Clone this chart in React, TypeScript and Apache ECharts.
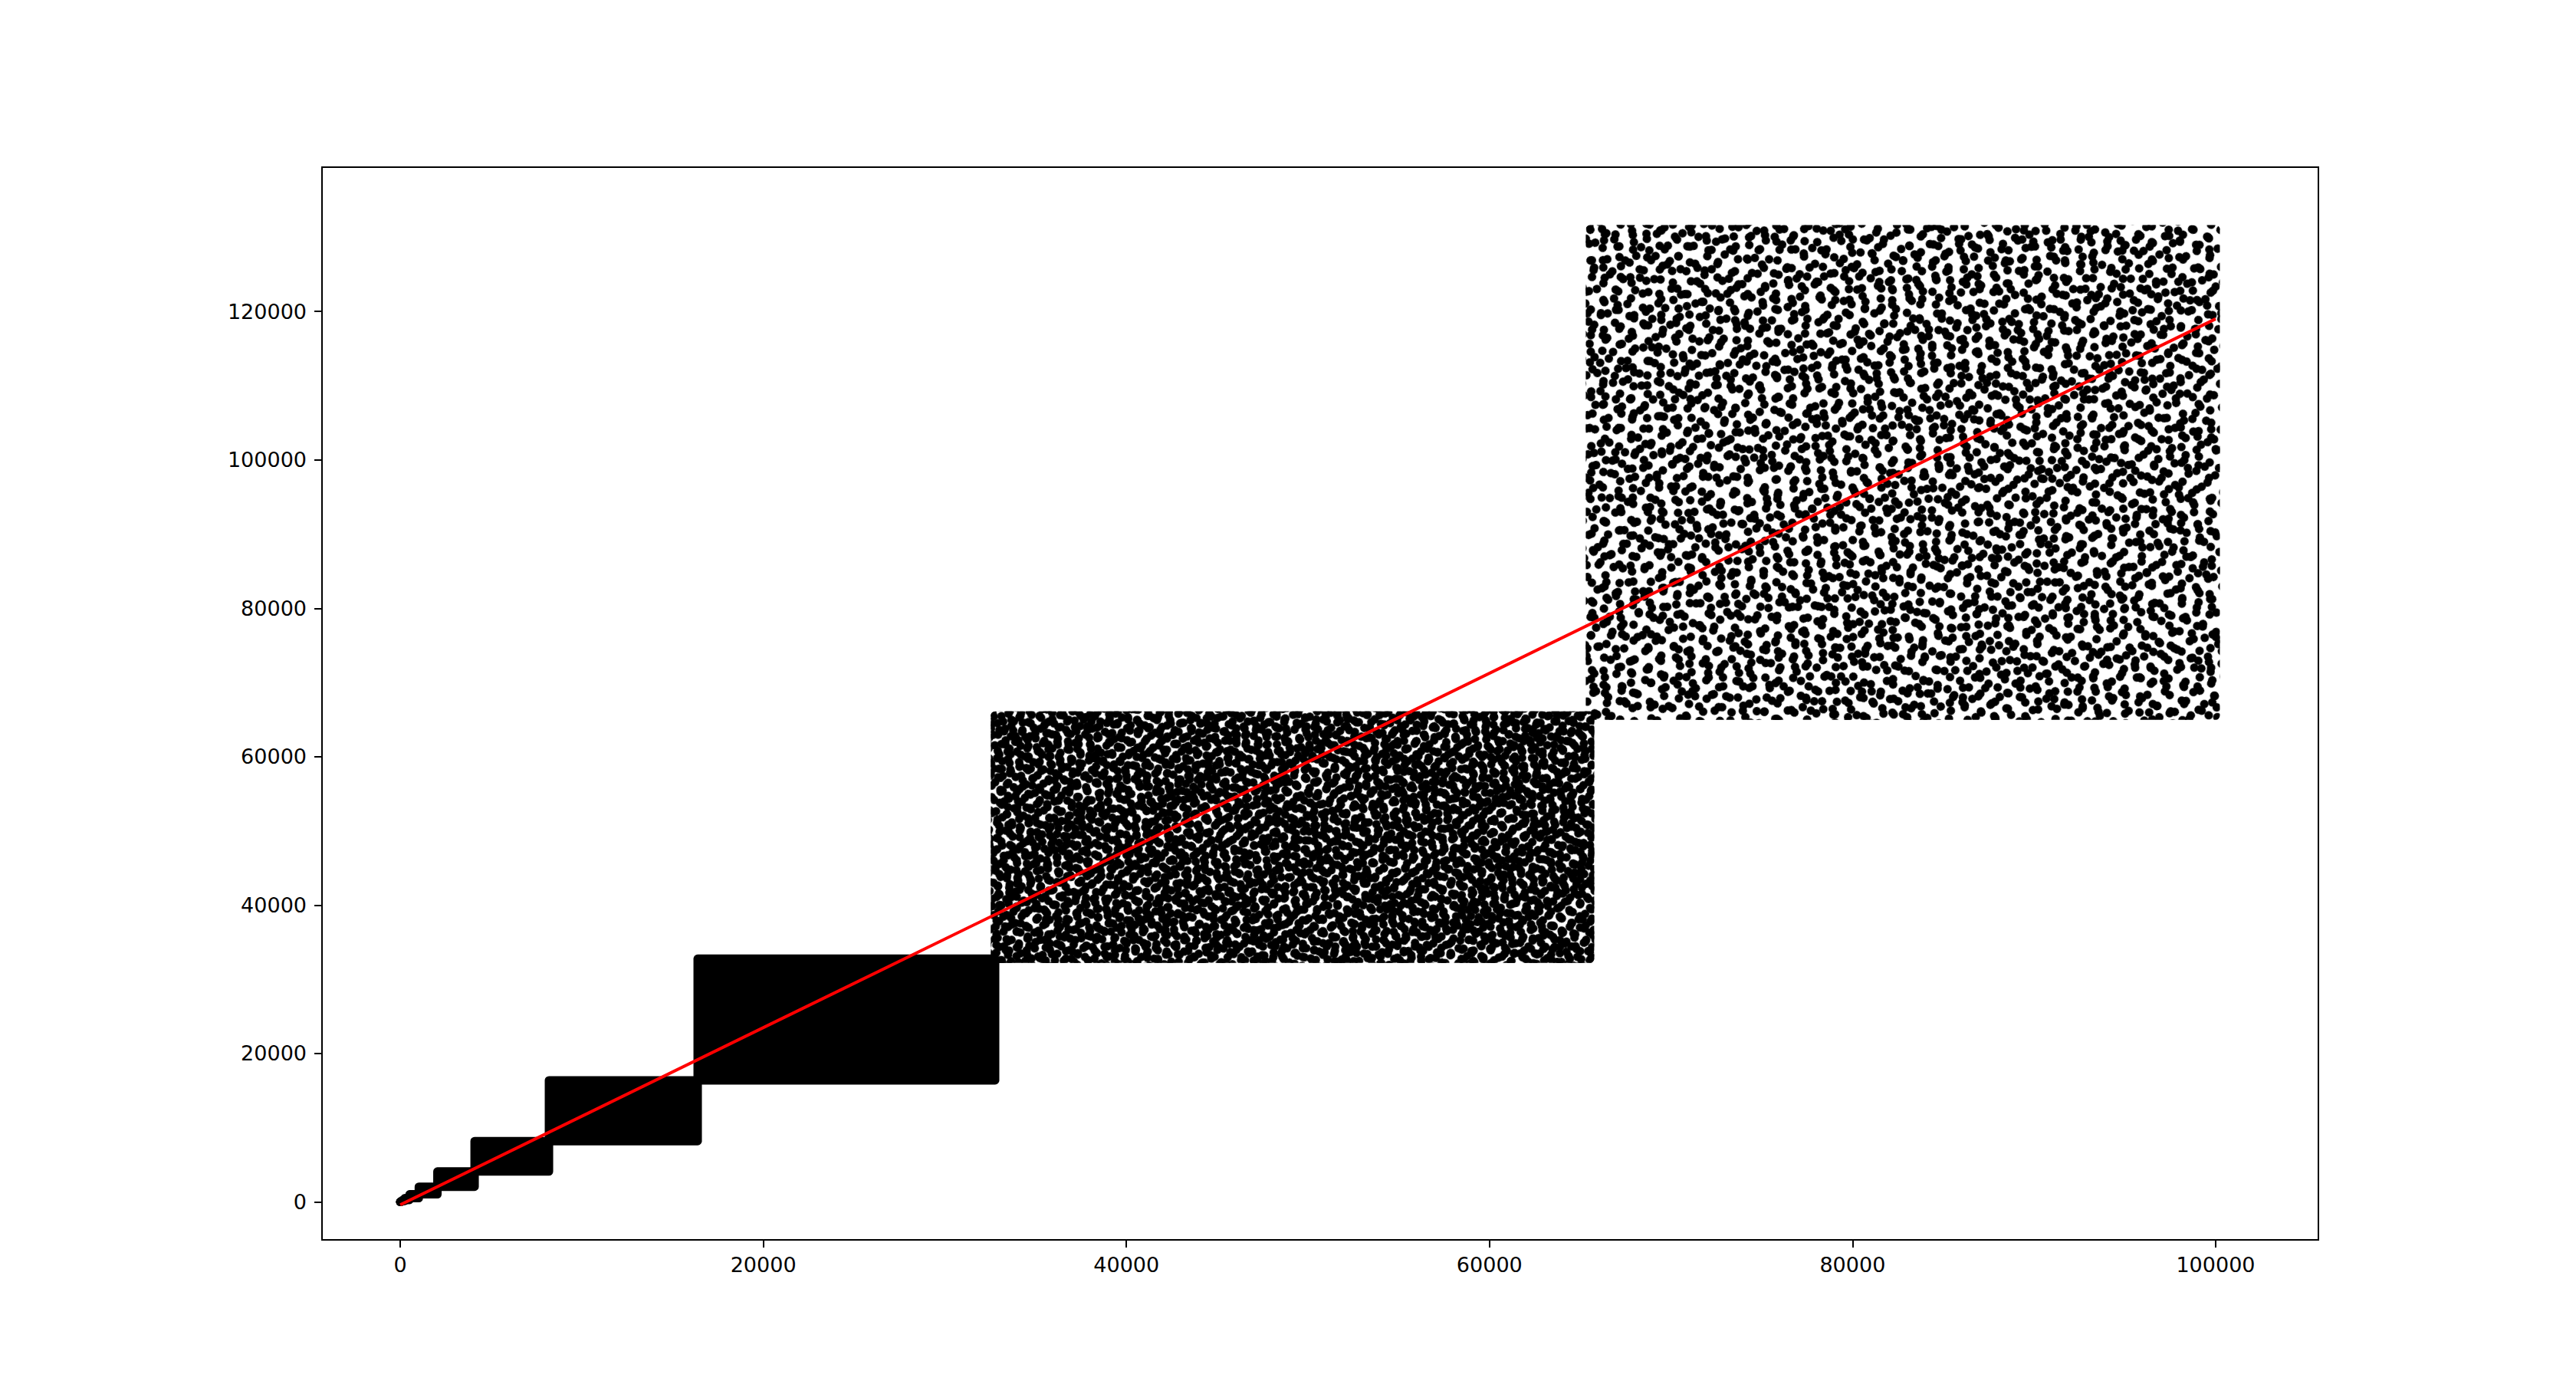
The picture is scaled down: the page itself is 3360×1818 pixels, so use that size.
import React, { useEffect, useRef } from 'react';
import * as echarts from 'echarts';

// Blocks of points: for x in [xStart, xEnd), y lies in [yStart, yEnd]
const blockXStart = [0, 1, 2, 4, 8, 16, 32, 64, 128, 256, 512, 1024, 2048, 4096, 8192, 16384, 32768, 65536];
const blockXEnd = [1, 2, 4, 8, 16, 32, 64, 128, 256, 512, 1024, 2048, 4096, 8192, 16384, 32768, 65536, 100000];
const blockYStart = [0, 1, 2, 4, 8, 16, 32, 64, 128, 256, 512, 1024, 2048, 4096, 8192, 16384, 32768, 65536];
const blockYEnd = [1, 2, 4, 8, 16, 32, 64, 128, 256, 512, 1024, 2048, 4096, 8192, 16384, 32768, 65536, 131072];

// Red fitted line end points
const fitLineX = [0, 100000];
const fitLineY = [-400, 119000];

const xTicks = [0, 20000, 40000, 60000, 80000, 100000];
const yTicks = [0, 20000, 40000, 60000, 80000, 100000, 120000];

const DOT_R = 5.5;

const mkDecal = (rotation: number, dashArrayY: number[], dashArrayX: number[][]) => ({
  symbol: 'circle',
  symbolSize: 1,
  color: '#000',
  backgroundColor: null,
  rotation,
  dashArrayY,
  dashArrayX,
  maxTileWidth: 512,
  maxTileHeight: 512,
});

// Dot textures (three overlaid layers) for the sparse top block
const sparseLayers = [
  mkDecal(0.5, [11, 7, 11, 10, 11, 6, 11, 11], [
    [11, 8, 11, 15, 11, 5, 11, 14],
    [0, 12, 11, 6, 11, 11, 11, 8, 11, 5],
    [11, 3, 11, 17, 11, 10, 11, 12],
    [0, 6, 11, 14, 11, 4, 11, 10, 11, 8],
  ]),
  mkDecal(-0.7, [11, 10, 11, 6, 11, 13, 11, 8], [
    [11, 16, 11, 2, 11, 11, 11, 16],
    [0, 7, 11, 10, 11, 14, 11, 5, 11, 9],
    [11, 6, 11, 19, 11, 8, 11, 12],
    [0, 2, 11, 12, 11, 4, 11, 17, 11, 10],
  ]),
  mkDecal(1.4, [11, 11, 11, 5, 11, 9, 11, 7], [
    [11, 13, 11, 7, 11, 18, 11, 10],
    [0, 10, 11, 5, 11, 15, 11, 6, 11, 12],
    [11, 4, 11, 14, 11, 9, 11, 21],
    [0, 16, 11, 11, 11, 2, 11, 14, 11, 5],
  ]),
];

// Dot textures for the medium-density block
const mediumLayers = [
  mkDecal(0.5, [11, 2, 11, 4, 11, 1, 11, 4], [
    [11, 1, 11, 6, 11, 0, 11, 4, 11, 7],
    [0, 4, 11, 2, 11, 7, 11, 1, 11, 3, 11, 1],
    [11, 5, 11, 1, 11, 8, 11, 3, 11, 1],
    [0, 6, 11, 0, 11, 4, 11, 6, 11, 2, 11, 0],
  ]),
  mkDecal(-0.7, [11, 4, 11, 1, 11, 5, 11, 3], [
    [11, 3, 11, 6, 11, 1, 11, 2, 11, 4],
    [0, 1, 11, 4, 11, 0, 11, 8, 11, 2, 11, 1],
    [11, 7, 11, 1, 11, 4, 11, 0, 11, 4],
    [0, 4, 11, 2, 11, 6, 11, 1, 11, 3, 11, 0],
  ]),
  mkDecal(1.4, [11, 4, 11, 2, 11, 3, 11, 1], [
    [11, 4, 11, 1, 11, 9, 11, 1, 11, 4],
    [0, 6, 11, 3, 11, 1, 11, 6, 11, 3, 11, 0],
    [11, 0, 11, 5, 11, 2, 11, 8, 11, 4],
    [0, 2, 11, 9, 11, 1, 11, 3, 11, 4, 11, 0],
  ]),
];

export default function App() {
  const ref = useRef<HTMLDivElement>(null);

  useEffect(() => {
    if (!ref.current) return;
    document.body.style.margin = '0';
    const chart = echarts.init(ref.current, null, { renderer: 'svg' });

    const blockData = blockXStart.map((x0, i) => [x0, blockXEnd[i], blockYStart[i], blockYEnd[i]]);
    const lineData = fitLineX.map((x, i) => [x, fitLineY[i]]);
    const lastIdx = blockData.length - 1;

    const axisLabelStyle = {
      color: '#000',
      fontSize: 27,
      fontFamily: 'DejaVu Sans',
      formatter: (v: number) => String(v),
    };

    const option: any = {
      animation: false,
      backgroundColor: '#fff',
      grid: {
        left: 420,
        right: 336,
        top: 218,
        bottom: 201,
        show: true,
        borderColor: '#000',
        borderWidth: 2,
        backgroundColor: 'transparent',
      },
      xAxis: {
        type: 'value',
        min: -4310,
        max: 105660,
        splitLine: { show: false },
        axisLine: { show: true, onZero: false, lineStyle: { color: '#000', width: 2 } },
        axisTick: { show: true, inside: false, length: 10, lineStyle: { color: '#000', width: 2 }, customValues: xTicks },
        axisLabel: { ...axisLabelStyle, margin: 19, customValues: xTicks },
      },
      yAxis: {
        type: 'value',
        min: -5120,
        max: 139450,
        splitLine: { show: false },
        axisLine: { show: true, onZero: false, lineStyle: { color: '#000', width: 2 } },
        axisTick: { show: true, inside: false, length: 10, lineStyle: { color: '#000', width: 2 }, customValues: yTicks },
        axisLabel: { ...axisLabelStyle, margin: 20, customValues: yTicks },
      },
      series: [
        {
          type: 'custom',
          name: 'points',
          data: blockData,
          encode: { x: [0, 1], y: [2, 3] },
          z: 2,
          renderItem: (params: any, api: any) => {
            const idx = params.dataIndex;
            const p0 = api.coord([api.value(0), api.value(3)]);
            const p1 = api.coord([api.value(1), api.value(2)]);
            const shape = {
              x: p0[0] - DOT_R,
              y: p0[1] - DOT_R,
              width: p1[0] - p0[0] + 2 * DOT_R,
              height: p1[1] - p0[1] + 2 * DOT_R,
              r: DOT_R,
            };
            const layers = idx === lastIdx ? sparseLayers : idx === lastIdx - 1 ? mediumLayers : null;
            if (layers) {
              return {
                type: 'group',
                children: layers.map((decal) => ({
                  type: 'rect',
                  shape,
                  style: { fill: 'rgba(0,0,0,0)', decal },
                })),
              };
            }
            return { type: 'rect', shape, style: { fill: '#000' } };
          },
        },
        {
          type: 'line',
          name: 'fit',
          data: lineData,
          showSymbol: false,
          symbol: 'none',
          z: 5,
          lineStyle: { color: '#ff0000', width: 4 },
        },
      ],
    };

    chart.setOption(option);
    return () => chart.dispose();
  }, []);

  return (
    <div
      ref={ref}
      style={{ position: 'fixed', left: 0, top: 0, width: 3360, height: 1818, background: '#fff' }}
    />
  );
}
